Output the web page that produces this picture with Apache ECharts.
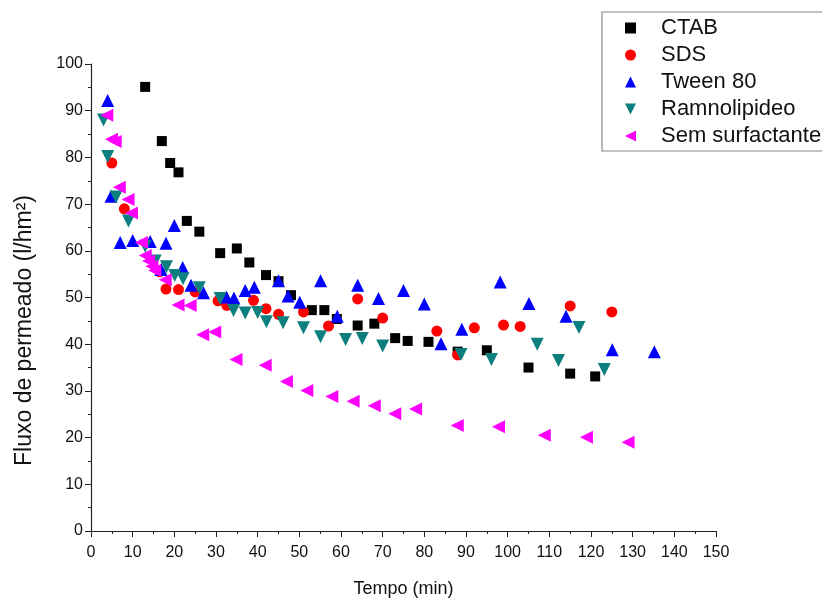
<!DOCTYPE html>
<html>
<head>
<meta charset="utf-8">
<script src="https://cdn.jsdelivr.net/npm/echarts@6/dist/echarts.min.js"></script>
<style>
  html, body { margin: 0; padding: 0; background: #fff; }
  #main { width: 822px; height: 600px; }
</style>
</head>
<body>
<div id="main"></div>
<script>
var myChart = echarts.init(document.getElementById('main'));

// [tempo (min), fluxo (l/hm2)]
var ctab = [[13,95.1],[17,83.5],[19,78.8],[21,76.8],[23,66.4],[26,64.1],[31,59.5],[35,60.5],[38,57.5],[42,54.8],[45,53.5],[48,50.5],
    [53,47.3],[56,47.3],[59,45.4],[64,44],[68,44.4],[73,41.3],[76,40.7],[81,40.5],[88,38.4],[95,38.7],[105,35],[115,33.7],[121,33.1]];
var sds = [[5,78.8],[8,69],[16.5,55.5],[18,51.8],[21,51.7],[25,51.2],[30.5,49.3],[32.6,48.3],[39,49.4],[42,47.6],[45,46.4],[51,46.9],
    [57,43.9],[64,49.7],[70,45.6],[83,42.8],[88,37.7],[92,43.5],[99,44.1],[103,43.8],[115,48.2],[125,46.9]];
var tween = [[4,92.2],[4.8,71.7],[7,61.8],[10,62.2],[14.2,62],[16.8,56],[18,61.6],[20,65.4],[22,56.4],[24,52.6],[27,51],[32.5,50.1],
    [34.3,49.9],[37,51.5],[39.2,52.2],[45,53.6],[47.3,50.3],[50.1,49],[55.1,53.6],[59.1,46],[64,52.6],[69,49.8],[75,51.5],[80,48.6],
    [84,40.1],[89,43.2],[98.2,53.3],[105.1,48.7],[114,46],[125.1,38.8],[135.2,38.4]];
var ramno = [[3,88],[4,80.2],[6,71.5],[9,66.4],[13,61],[15.4,57.8],[18.1,56.6],[20.1,54.7],[22.1,54],[26,52.1],[31,49.8],[34.2,47.2],
    [37,46.7],[40,46.8],[42.1,44.8],[46.1,44.6],[51,43.5],[55.1,41.6],[61.1,41],[65.1,41.2],[70,39.6],[88.8,37.8],[96.1,36.7],
    [107.1,40],[112.2,36.5],[117.1,43.6],[123.2,34.6]];
var semSurf = [[3.8,89],[4.9,83.9],[5.8,83.4],[6.8,73.6],[8.9,71],[9.7,68.1],[12.1,61.8],[13,59],[13.8,57.8],[14.6,56.7],[15.3,55.8],
    [17.8,53.8],[20.9,48.4],[23.8,48.3],[26.8,42],[29.7,42.6],[34.8,36.7],[41.8,35.5],[46.9,32],[51.8,30.1],[57.8,28.8],[62.9,27.8],
    [68,26.8],[72.9,25.1],[77.9,26.1],[87.9,22.6],[97.8,22.3],[108.8,20.5],[118.9,20.1],[128.9,19]];

var seriesNames = ['CTAB', 'SDS', 'Tween 80', 'Ramnolipideo', 'Sem surfactante'];
var legendIcons = ['rect', 'circle', 'triangle', 'path://M0,0 L10,0 L5,10 Z', 'path://M10,0 L10,10 L0,5 Z'];

var fontFam = 'Liberation Sans, Arial, sans-serif';
var axisColor = '#222';

function makeSeries(name, data, symbol, rotate, color, size) {
    return {
        name: name,
        type: 'scatter',
        data: data,
        symbol: symbol,
        symbolRotate: rotate,
        symbolSize: size,
        itemStyle: { color: color, opacity: 1 },
        emphasis: { disabled: true }
    };
}

var legendData = [];
for (var i in seriesNames) {
    legendData.push({ name: seriesNames[i], icon: legendIcons[i] });
}

myChart.setOption({
    animation: false,
    backgroundColor: '#fff',
    grid: { left: 91, right: 106, top: 64, bottom: 69, outerBoundsMode: 'none' },
    legend: {
        orient: 'vertical',
        left: 602,
        top: 12,
        data: legendData,
        itemWidth: 11,
        itemHeight: 11,
        itemGap: 5,
        padding: [5, 12, 4, 23],
        borderColor: '#888',
        borderWidth: 1.2,
        formatter: function (name) { return '{t|' + name + '}'; },
        textStyle: {
            fontFamily: fontFam, fontSize: 22, color: '#111',
            rich: { t: { fontFamily: fontFam, fontSize: 22, color: '#111', padding: [0, 0, 0, 20] } }
        }
    },
    xAxis: {
        type: 'value',
        min: 0,
        max: 150,
        interval: 10,
        name: 'Tempo (min)',
        nameLocation: 'middle',
        nameGap: 49,
        nameTextStyle: { fontFamily: fontFam, fontSize: 18, color: '#111' },
        axisLine: { show: true, onZero: false, lineStyle: { color: axisColor, width: 1.2 } },
        axisTick: { show: true, inside: false, length: 6, lineStyle: { color: axisColor } },
        minorTick: { show: true, splitNumber: 2, length: 3, lineStyle: { color: axisColor } },
        axisLabel: { fontFamily: fontFam, fontSize: 16, color: '#111', margin: 14 },
        splitLine: { show: false }
    },
    yAxis: {
        type: 'value',
        min: 0,
        max: 100,
        interval: 10,
        name: 'Fluxo de permeado (l/hm²)',
        nameLocation: 'middle',
        nameGap: 55,
        nameTextStyle: { fontFamily: fontFam, fontSize: 23, color: '#111', padding: [0, 66, 0, 0] },
        axisLine: { show: true, onZero: false, lineStyle: { color: axisColor, width: 1.2 } },
        axisTick: { show: true, inside: false, length: 6, lineStyle: { color: axisColor } },
        minorTick: { show: true, splitNumber: 2, length: 3, lineStyle: { color: axisColor } },
        axisLabel: { fontFamily: fontFam, fontSize: 16, color: '#111', margin: 8 },
        splitLine: { show: false }
    },
    series: [
        makeSeries('CTAB', ctab, 'rect', 0, '#000000', 10),
        makeSeries('SDS', sds, 'circle', 0, '#ff0000', 11),
        makeSeries('Tween 80', tween, 'triangle', 0, '#0000ff', 13),
        makeSeries('Ramnolipideo', ramno, 'triangle', 180, '#0e7f7f', 13),
        makeSeries('Sem surfactante', semSurf, 'triangle', 90, '#ff00ff', 13)
    ]
});
</script>
</body>
</html>
